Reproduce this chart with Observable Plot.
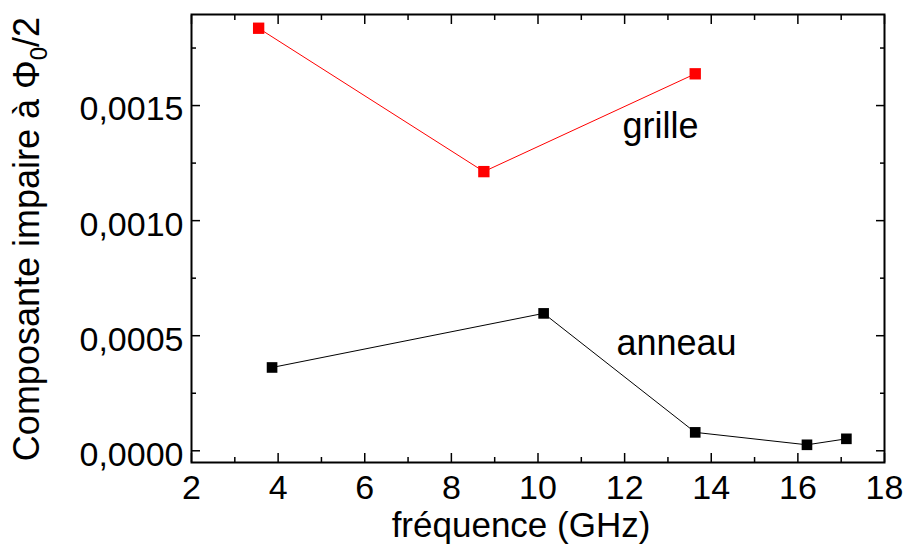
<!DOCTYPE html>
<html><head><meta charset="utf-8">
<script src="https://cdn.jsdelivr.net/npm/d3@7"></script>
<script src="https://cdn.jsdelivr.net/npm/@observablehq/plot@0.6"></script>
<style>body{margin:0;background:#fff}</style>
</head><body><div id="chart"></div>
<script>
// Data
const grilleFreq = [3.55, 8.75, 13.63];
const grilleVal = [0.001836, 0.001213, 0.001638];
const anneauFreq = [3.86, 10.13, 13.63, 16.21, 17.12];
const anneauVal = [0.000362, 0.000597, 0.000080, 0.000026, 0.000052];
const xMajor = [2, 4, 6, 8, 10, 12, 14, 16, 18];
const xMinor = [3, 5, 7, 9, 11, 13, 15, 17];
const yMajor = [0, 0.0005, 0.0010, 0.0015];
const yMinor = [0.00025, 0.00075, 0.00125, 0.00175];
const seriesNames = ["grille", "anneau"];
const xTitle = "fréquence (GHz)";
const yTitleMain = "Composante impaire à Φ";
const yTitleSub = "0";
const yTitleEnd = "/2";

// annotation anchors (data units)
const labelX = [11.95, 11.81];
const labelY = [0.00141, 0.000466];

const grille = grilleFreq.map((f, i) => ({f, v: grilleVal[i]}));
const anneau = anneauFreq.map((f, i) => ({f, v: anneauVal[i]}));
const labels = seriesNames.map((t, i) => ({t, x: labelX[i], y: labelY[i]}));

const fmt = d => d3.format(".4f")(d).replace(".", ",");
const blank = () => "";
const font = "'Liberation Sans', Arial, Helvetica, sans-serif";

const chart = Plot.plot({
  width: 906,
  height: 548,
  marginLeft: 191,
  marginRight: 22,
  marginTop: 14,
  marginBottom: 86,
  style: {fontFamily: font, fontSize: "34px", background: "white", color: "black", overflow: "visible"},
  x: {domain: [2, 18]},
  y: {domain: [-0.0000509, 0.0018957]},
  marks: [
    // labels
    Plot.axisX(xMajor, {anchor: "bottom", tickSize: 0, tickPadding: 12, label: null, fontSize: 34}),
    Plot.axisY(yMajor, {anchor: "left", tickSize: 0, tickPadding: 8, tickFormat: fmt, label: null, fontSize: 34, dy: 4}),
    // inward ticks on all sides
    Plot.axisX(xMajor, {anchor: "bottom", tickSize: -9, tickFormat: blank, label: null, strokeWidth: 1.5}),
    Plot.axisX(xMinor, {anchor: "bottom", tickSize: -5, tickFormat: blank, label: null, strokeWidth: 1.5}),
    Plot.axisX(xMajor, {anchor: "top", tickSize: -9, tickFormat: blank, label: null, strokeWidth: 1.5}),
    Plot.axisX(xMinor, {anchor: "top", tickSize: -5, tickFormat: blank, label: null, strokeWidth: 1.5}),
    Plot.axisY(yMajor, {anchor: "left", tickSize: -9, tickFormat: blank, label: null, strokeWidth: 1.5}),
    Plot.axisY(yMinor, {anchor: "left", tickSize: -5, tickFormat: blank, label: null, strokeWidth: 1.5}),
    Plot.axisY(yMajor, {anchor: "right", tickSize: -9, tickFormat: blank, label: null, strokeWidth: 1.5}),
    Plot.axisY(yMinor, {anchor: "right", tickSize: -5, tickFormat: blank, label: null, strokeWidth: 1.5}),
    Plot.frame({stroke: "black", strokeWidth: 2}),
    // series
    Plot.line(grille, {x: "f", y: "v", stroke: "#ff0000", strokeWidth: 1}),
    Plot.dot(grille, {x: "f", y: "v", symbol: "square", r: 6.4, fill: "#ff0000", stroke: "none"}),
    Plot.line(anneau, {x: "f", y: "v", stroke: "black", strokeWidth: 1}),
    Plot.dot(anneau, {x: "f", y: "v", symbol: "square", r: 6, fill: "black", stroke: "none"}),
    Plot.text(labels, {x: "x", y: "y", text: "t", textAnchor: "start", lineAnchor: "middle", fontSize: 36, fill: "black"})
  ]
});

const svg = d3.select(chart);
// x axis title
svg.append("text")
  .attr("x", 521).attr("y", 537)
  .attr("text-anchor", "middle")
  .attr("font-family", font).attr("font-size", 35).attr("fill", "black")
  .text(xTitle);
// y axis title with subscript
const yt = svg.append("text")
  .attr("transform", "translate(39,239) rotate(-90)")
  .attr("text-anchor", "middle")
  .attr("font-family", font).attr("font-size", 36).attr("fill", "black");
yt.append("tspan").text(yTitleMain);
yt.append("tspan").attr("dy", 8).attr("font-size", 24).text(yTitleSub);
yt.append("tspan").attr("dy", -8).text(yTitleEnd);

document.getElementById("chart").appendChild(chart);
</script>
</body></html>
